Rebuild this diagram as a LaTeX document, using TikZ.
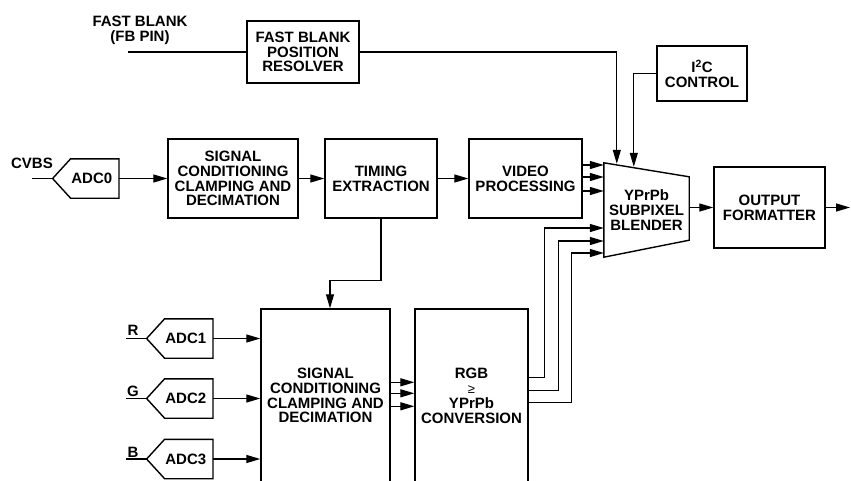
\documentclass[tikz,border=0pt]{standalone}
\usepackage{fontspec}
\setmainfont{Liberation Sans}
\usetikzlibrary{arrows.meta, positioning, calc}

\begin{document}
\begin{tikzpicture}[
  x=1pt, y=-1pt,
  font=\bfseries\fontsize{15}{14.8}\selectfont,
  block/.style={draw, line width=1.4pt, align=center, inner sep=0pt},
  adc/.style={minimum width=66pt, minimum height=39pt, inner sep=0pt, anchor=east},
  tag/.style={inner sep=0pt, align=center},
  wire/.style={line width=1.3pt},
  arr/.style={wire, -{Triangle[length=14pt, width=8pt]}}
]
\useasboundingbox (0,0) rectangle (851,480);
\clip (0,0) rectangle (851,480);

% fast blank path
\node[tag] (fblabel) at (140,30) {FAST BLANK\\(FB PIN)};
\coordinate (fbin) at (128,52);
\node[block, minimum width=112pt, minimum height=62pt] (fbres) at (303,52) {FAST BLANK\\POSITION\\RESOLVER};
\node[block, minimum width=90pt, minimum height=55pt] (i2c) at (702,73.5) {I\textsuperscript{2}C\\CONTROL};

% CVBS row
\node[tag] (cvbs) at (32,163) {CVBS};
\coordinate (cvbsin) at (32,178.5);
\node[adc] (adc0) at (119,178.5) {\hspace*{12pt}ADC0};
\node[block, minimum width=130pt, minimum height=79pt] (sig0) at (233,178.5) {SIGNAL\\CONDITIONING\\CLAMPING AND\\DECIMATION};
\node[block, minimum width=112pt, minimum height=79pt] (timing) at (381,178.5) {TIMING\\EXTRACTION};
\node[block, minimum width=113pt, minimum height=79pt] (video) at (525.5,178.5) {VIDEO\\PROCESSING};
\node[tag, minimum width=85pt, minimum height=94pt] (blender) at (646.5,210) {YPrPb\\SUBPIXEL\\BLENDER};
\draw[line width=1.4pt] (blender.north west) -- ($(blender.north east)+(0,14)$) -- ($(blender.south east)+(0,-17)$) -- (blender.south west) -- cycle;
\node[block, minimum width=111pt, minimum height=81pt] (outfmt) at (769.5,207.5) {OUTPUT\\FORMATTER};
\coordinate (out) at (850,207.5);

% RGB inputs
\node[tag] (rlabel) at (133,330) {R};
\node[tag] (glabel) at (133,391) {G};
\node[tag] (blabel) at (133,452) {B};
\coordinate (rin) at (126,338.5);
\coordinate (gin) at (126,398.5);
\coordinate (bin) at (126,459);
\node[adc] (adc1) at (213,338.5) {\hspace*{12pt}ADC1};
\node[adc] (adc2) at (213,398.5) {\hspace*{12pt}ADC2};
\node[adc] (adc3) at (213,459) {\hspace*{12pt}ADC3};
\node[block, minimum width=129pt, minimum height=173pt] (sig1) at (325.5,395.5) {SIGNAL\\CONDITIONING\\CLAMPING AND\\DECIMATION};
\node[block, minimum width=113pt, minimum height=174pt] (rgb) at (471.5,396) {RGB\\{\mdseries\fontsize{13}{14.8}\selectfont ≥}\\YPrPb\\CONVERSION};

% converter outlines
\foreach \a in {adc0,adc1,adc2,adc3}
  \draw[line width=1.4pt] (\a.west) -- ($(\a.north west)+(18,0)$) -- (\a.north east) -- (\a.south east) -- ($(\a.south west)+(18,0)$) -- cycle;

\draw[wire] (fbin) -- (fbres.west);
\draw[arr] (fbres.east) -| ($(blender.north west)+(13,1)$);
\draw[arr] (i2c.west) -| ($(blender.north west)+(30,4)$);

\draw[wire] (cvbsin) -- (adc0.west);
\draw[arr] (adc0.east) -- (sig0.west);
\draw[arr] (sig0.east) -- (timing.west);
\draw[arr] (timing.east) -- (video.west);
\foreach \dy in {-45,-33,-19} {
  \coordinate (vin) at ($(blender.west)+(0,\dy)$);
  \draw[arr] (vin -| video.east) -- (vin);
}
\draw[arr] (blender.east |- outfmt.west) -- (outfmt.west);
\draw[arr] (outfmt.east) -- (out);

\draw[arr] (timing.south) -- ++(0,62) -| ($(sig1.north)+(4.5,0)$);

\draw[wire] (rin) -- (adc1.west);
\draw[wire] (gin) -- (adc2.west);
\draw[wire] (bin) -- (adc3.west);
\draw[arr] (adc1.east) -- (adc1.east -| sig1.west);
\draw[arr] (adc2.east) -- (adc2.east -| sig1.west);
\draw[arr] (adc3.east) -- (adc3.east -| sig1.west);
\foreach \dy in {74,85,98} {
  \coordinate (cin) at ($(sig1.north east)+(0,\dy)$);
  \draw[arr] (cin) -- (cin -| rgb.west);
}

\draw[arr] ($(rgb.north east)+(0,69)$) -| ($(blender.west)+(-59,18)$) -- ($(blender.west)+(0,18)$);
\draw[arr] ($(rgb.north east)+(0,82)$) -| ($(blender.west)+(-45,31)$) -- ($(blender.west)+(0,31)$);
\draw[arr] ($(rgb.north east)+(0,94)$) -| ($(blender.west)+(-32,43)$) -- ($(blender.west)+(0,43)$);
\end{tikzpicture}
\end{document}
